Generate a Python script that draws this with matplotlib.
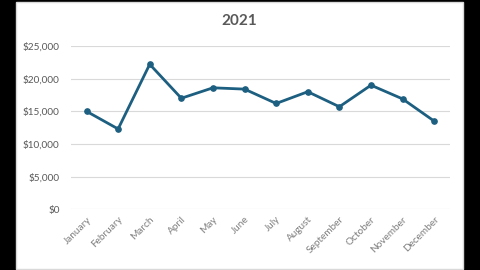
import matplotlib
matplotlib.use("Agg")
import matplotlib.pyplot as plt
from matplotlib.patches import Rectangle
from matplotlib.ticker import FuncFormatter

plt.rcParams['font.family'] = ['Lato', 'DejaVu Sans']

months = ["January", "February", "March", "April", "May", "June", "July",
          "August", "September", "October", "November", "December"]
sales = [15000, 12300, 22200, 17000, 18600, 18400, 16200, 18000, 15700, 19000, 16900, 13500]
yticks = [0, 5000, 10000, 15000, 20000, 25000]
title = "2021"

W, H = 480, 270
fig = plt.figure(figsize=(W / 100, H / 100), dpi=100)
fig.patch.set_facecolor("black")
fig.patches.append(Rectangle((16 / W, 1 / H), (463 - 16) / W, (268 - 1) / H,
                             transform=fig.transFigure, facecolor="white",
                             edgecolor="#d9d9d9", linewidth=1.0, zorder=-5))

ax = fig.add_axes([70.7 / W, 1 - 209.3 / H, (450 - 70.7) / W, (209.3 - 46) / H])
ax.set_zorder(2)
ax.patch.set_alpha(0)
x = list(range(len(months)))
ax.plot(x, sales, color="#1d5f80", linewidth=2.0, marker="o", markersize=3.8,
        solid_joinstyle="round", zorder=3)
ax.set_xlim(-0.5, len(months) - 0.5)
ax.set_ylim(0, 25000)
ax.set_yticks(yticks)
ax.yaxis.set_major_formatter(FuncFormatter(lambda v, p: "${:,.0f}".format(v)))
ax.set_xticks(x)
ax.set_xticklabels(months, rotation=45, ha="right", rotation_mode="anchor")
ax.grid(axis="y", color="#d9d9d9", linewidth=0.8)
ax.set_axisbelow(True)
for s in ax.spines.values():
    s.set_visible(False)
ax.tick_params(axis="both", length=0, colors="#595959", labelsize=7.2)
ax.tick_params(axis="x", colors="#7f7f7f")
ax.tick_params(axis="y", pad=8)
ax.tick_params(axis="x", pad=4)

fig.text(239 / W, 1 - 21 / H, title, ha="center", va="center", fontsize=11,
         color="#595959", fontweight="bold", zorder=5)

fig.savefig("out.png", dpi=100, facecolor=fig.get_facecolor())
